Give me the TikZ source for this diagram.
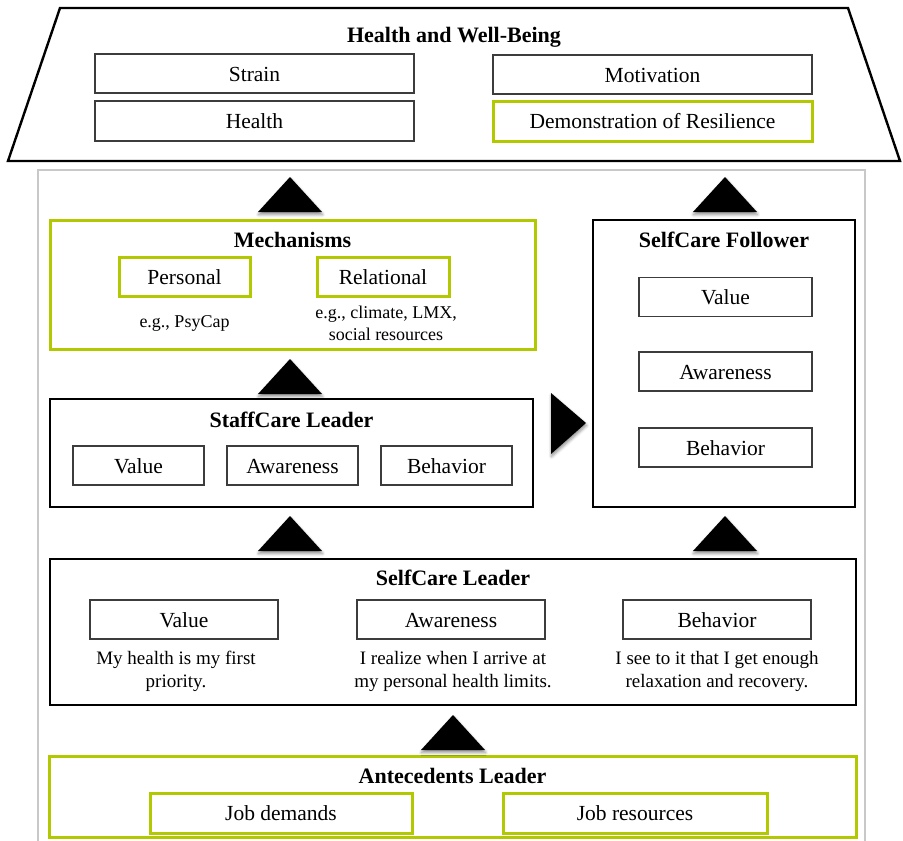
\documentclass[tikz,border=0pt]{standalone}
\usepackage{fontspec}
\setmainfont{Liberation Serif}
\usetikzlibrary{shadows.blur}
\definecolor{limegreen}{RGB}{178,200,0}
\definecolor{framegray}{RGB}{200,200,200}
\definecolor{itemline}{RGB}{60,60,60}

\tikzset{
  outerbox/.style={draw=black, line width=2.6pt, inner sep=0pt},
  greenbox/.style={draw=limegreen, line width=3pt, inner sep=0pt},
  item/.style={draw=itemline, line width=1.2pt, fill=white, inner sep=0pt,
    text height=15pt, text depth=0pt, font=\fontsize{21.5}{25}\selectfont},
  greenitem/.style={item, draw=limegreen, line width=3pt},
  heading/.style={font=\fontsize{22}{26}\selectfont\bfseries, anchor=base, inner sep=0pt},
  note/.style={font=\fontsize{19}{23}\selectfont, align=center, anchor=base, inner sep=0pt},
  smallnote/.style={note, font=\fontsize{18}{22}\selectfont},
  tri/.style={fill=black, blur shadow={shadow xshift=0.5pt, shadow yshift=-2.5pt,
    shadow blur radius=3pt, shadow opacity=45}},
  uptri/.pic={\fill[tri] (-32,0) -- (32,0) -- (0,-35) -- cycle;},
  righttri/.pic={\fill[tri] (0,-30) -- (35,0) -- (0,31) -- cycle;},
}

\begin{document}
\begin{tikzpicture}[x=1pt, y=-1pt]
\useasboundingbox (0,0) rectangle (903,841);

% outcome roof
\draw[line width=2.4pt, fill=white] (60,8) -- (848,8) -- (900,161) -- (8,161) -- cycle;
\node[heading] (hwb) at (454,42) {Health and Well-Being};
\node[item, minimum width=319, minimum height=39] (strain) at (254.5,73.5) {Strain};
\node[item, minimum width=319, minimum height=40] (health) at (254.5,121) {Health};
\node[item, minimum width=319, minimum height=39] (motiv) at (652.5,74.5) {Motivation};
\node[greenitem, minimum width=319, minimum height=40] (resil) at (652.5,121) {Demonstration of Resilience};

% model frame
\draw[framegray, line width=1.5pt] (38,841) -- (38,170) -- (865,170) -- (865,841);

% mechanisms
\node[greenbox, minimum width=485, minimum height=129] (mech) at (292.5,284.5) {};
\node[heading] (mecht) at (292.5,247) {Mechanisms};
\node[greenitem, minimum width=131, minimum height=39] (pers) at (184.5,276.5) {Personal};
\node[greenitem, minimum width=132, minimum height=39] (rel) at (383,276.5) {Relational};
\node[smallnote] (persn) at (184.5,327) {e.g., PsyCap};
\node[smallnote] (reln) at (386,340) {e.g., climate, LMX,\\social resources};

% staffcare leader
\node[outerbox, minimum width=483, minimum height=108] (staff) at (291.5,453) {};
\node[heading] (stafft) at (291.5,427) {StaffCare Leader};
\node[item, minimum width=131, minimum height=39] (sval) at (138.5,465.5) {Value};
\node[item, minimum width=131, minimum height=39] (saw) at (292.5,465.5) {Awareness};
\node[item, minimum width=131, minimum height=39] (sbeh) at (446.5,465.5) {Behavior};

% selfcare follower
\node[outerbox, minimum width=262, minimum height=287] (foll) at (724,363.5) {};
\node[heading] (follt) at (724,247) {SelfCare Follower};
\node[item, minimum width=173, minimum height=39] (fval) at (725.5,297) {Value};
\node[item, minimum width=173, minimum height=39] (faw) at (725.5,371.5) {Awareness};
\node[item, minimum width=173, minimum height=39] (fbeh) at (725.5,447.5) {Behavior};

% selfcare leader
\node[outerbox, minimum width=806, minimum height=146] (self) at (453,632) {};
\node[heading] (selft) at (453,585) {SelfCare Leader};
\node[item, minimum width=188, minimum height=39] (lval) at (184,619.5) {Value};
\node[item, minimum width=188, minimum height=39] (law) at (451,619.5) {Awareness};
\node[item, minimum width=188, minimum height=39] (lbeh) at (717,619.5) {Behavior};
\node[note] (lvaln) at (176,687) {My health is my first\\priority.};
\node[note] (lawn) at (453,687) {I realize when I arrive at\\my personal health limits.};
\node[note] (lbehn) at (717,687) {I see to it that I get enough\\relaxation and recovery.};

% antecedents
\node[greenbox, minimum width=807, minimum height=81] (ante) at (452.5,796.5) {};
\node[heading] (antet) at (452.5,783) {Antecedents Leader};
\node[greenitem, minimum width=262, minimum height=40] (jdem) at (281,813) {Job demands};
\node[greenitem, minimum width=264, minimum height=40] (jres) at (635,813) {Job resources};

% flow arrows
\pic (a1) at (290,212) {uptri};
\pic (a2) at (725,212) {uptri};
\pic (a3) at (290,394) {uptri};
\pic (a4) at (551,423) {righttri};
\pic (a5) at (290,551) {uptri};
\pic (a6) at (725,551) {uptri};
\pic (a7) at (453,750) {uptri};
\end{tikzpicture}
\end{document}
